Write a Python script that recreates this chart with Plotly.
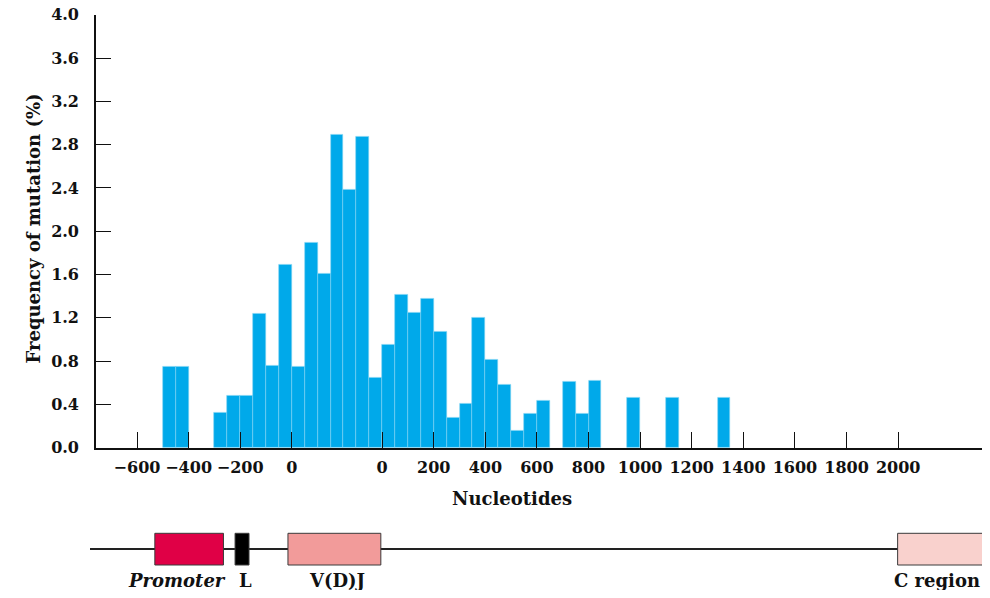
import plotly.graph_objects as go

# bins are 50 nt wide, frequency in %
BIN = 50
VDJ_LENGTH = 350  # width the V(D)J segment takes on the axis

# upstream of V(D)J (labelled -600..0), bin starts
upstream_starts = [-500, -450, -300, -250, -200, -150, -100, -50]
upstream_freq = [0.75, 0.75, 0.32, 0.48, 0.48, 1.24, 0.76, 1.69]

# inside V(D)J, offset from its start
vdj_starts = [0, 50, 100, 150, 200, 250, 300]
vdj_freq = [0.75, 1.89, 1.61, 2.89, 2.38, 2.87, 0.65]

# downstream of V(D)J (labelled 0..2000)
downstream_starts = [0, 50, 100, 150, 200, 250, 300, 350, 400, 450, 500, 550, 600,
                     700, 750, 800, 950, 1100, 1300]
downstream_freq = [0.955, 1.41, 1.25, 1.38, 1.07, 0.28, 0.41, 1.20, 0.81, 0.58, 0.154,
                   0.31, 0.43, 0.61, 0.31, 0.62, 0.46, 0.46, 0.46]

upstream_ticks = [-600, -400, -200, 0]
downstream_ticks = [0, 200, 400, 600, 800, 1000, 1200, 1400, 1600, 1800, 2000]
y_ticks = [0.0, 0.4, 0.8, 1.2, 1.6, 2.0, 2.4, 2.8, 3.2, 3.6, 4.0]

# gene map (axis coordinates)
gene_names = ["<i>Promoter</i>", "L", "V(D)J", "C region"]
gene_start = [-531, -220, -15, VDJ_LENGTH + 1998]
gene_end = [-265, -166, 345, VDJ_LENGTH + 2400]
gene_colors = ["#E00046", "#000000", "#F29B9A", "#F9D1CD"]

FONT = "DejaVu Serif"
BLUE = "#00A9EA"
INK = "#111111"

# the page body adds an 8px margin on every side; size the figure so the page fits the window
OFF = 8
W, H = 990 - 2 * OFF, 598 - 2 * OFF
L_MARGIN, T_MARGIN = 96 - OFF, 10 - OFF
PLOT_W = W - L_MARGIN
PLOT_H = H - T_MARGIN


def px(x):
    # paper x from a page pixel column
    return (x - 96) / PLOT_W


def py(y):
    # paper y from a page pixel row
    return (OFF + H - y) / PLOT_H


def dn(v):
    return v + VDJ_LENGTH


xs = ([s + BIN / 2 for s in upstream_starts]
      + [s + BIN / 2 for s in vdj_starts]
      + [dn(s) + BIN / 2 for s in downstream_starts])
ys = upstream_freq + vdj_freq + downstream_freq

fig = go.Figure()
fig.add_trace(go.Bar(
    x=xs, y=ys, width=BIN,
    marker=dict(color=BLUE, line=dict(color="#7FD3F4", width=0.6)),
    hoverinfo="skip",
))

tickvals = upstream_ticks + [dn(v) for v in downstream_ticks]
ticktext = [str(v).replace("-", "\u2212") for v in upstream_ticks] + [str(v) for v in downstream_ticks]

fig.update_layout(
    width=W, height=H,
    margin=dict(l=L_MARGIN, r=0, t=T_MARGIN, b=0),
    paper_bgcolor="white", plot_bgcolor="white",
    showlegend=False, bargap=0,
    font=dict(family=FONT, color=INK),
    xaxis=dict(
        range=[-759, 2675], showgrid=False, zeroline=False, automargin=False,
        showline=True, linecolor=INK, linewidth=1.6,
        tickmode="array", tickvals=tickvals, ticktext=ticktext,
        ticks="inside", ticklen=16, tickwidth=1.4, tickcolor=INK,
        tickfont=dict(family=FONT, size=16, weight="bold", color=INK),
        ticklabelstandoff=4, ticklabeloverflow="allow",
    ),
    yaxis=dict(
        range=[0, 4.0], domain=[py(447.7), py(14.7)], showgrid=False, zeroline=False,
        automargin=False, showline=True, linecolor=INK, linewidth=1.6,
        tickmode="array", tickvals=y_ticks, ticktext=[f"{v:.1f}" for v in y_ticks],
        ticks="inside", ticklen=15, tickwidth=1.4, tickcolor=INK,
        tickfont=dict(family=FONT, size=16, weight="bold", color=INK),
        ticklabelstandoff=12, ticklabeloverflow="allow",
    ),
)

fig.add_annotation(
    text="Frequency of mutation (%)", textangle=-90,
    xref="paper", yref="paper", x=px(20), y=py(229), yanchor="middle",
    showarrow=False, font=dict(family=FONT, size=18, weight="bold", color=INK),
)
fig.add_annotation(
    text="Nucleotides", xref="paper", yref="paper",
    x=px(512), y=py(498), yanchor="middle", showarrow=False,
    font=dict(family=FONT, size=18, weight="bold", color=INK),
)

# gene map backbone
fig.add_shape(type="line", xref="paper", yref="paper",
              x0=px(90), x1=1, y0=py(549), y1=py(549),
              line=dict(color="#222222", width=2))

for i, (name, s, e, c) in enumerate(zip(gene_names, gene_start, gene_end, gene_colors)):
    fig.add_shape(type="rect", xref="x", yref="paper",
                  x0=s, x1=e, y0=py(565), y1=py(533.3),
                  fillcolor=c, line=dict(color="#3a3a3a", width=1))
    last = i == len(gene_names) - 1
    if last:
        fig.add_annotation(text=name, xref="paper", yref="paper", x=1, xanchor="right",
                           y=py(580), yanchor="middle", showarrow=False,
                           font=dict(family=FONT, size=18, weight="bold", color=INK))
    else:
        fig.add_annotation(
            text=name, xref="x", yref="paper", x=(s + e) / 2,
            xshift=-12 if i == 0 else 3, y=py(580), yanchor="middle", showarrow=False,
            font=dict(family=FONT, size=18, weight="bold", color=INK),
        )

fig.write_html("out.html")
